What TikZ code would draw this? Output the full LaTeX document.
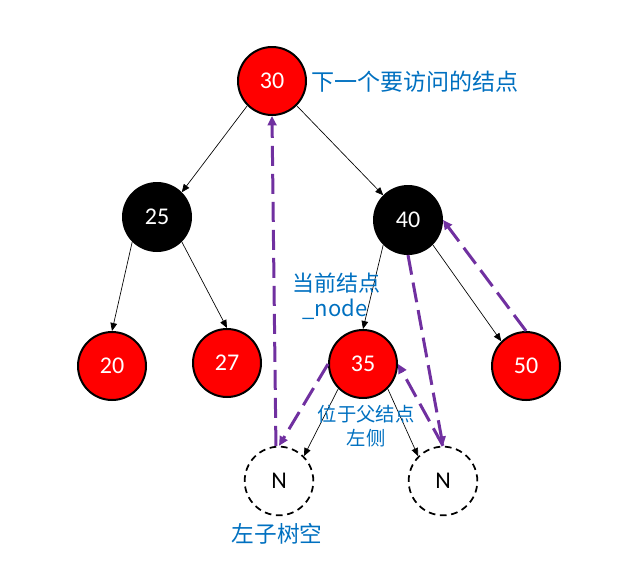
\documentclass[tikz,border=0pt]{standalone}
\usepackage{fontspec}
\setmainfont{Carlito}
\newfontfamily\cjk{Noto Sans CJK SC}
\usetikzlibrary{arrows.meta}
\definecolor{lblue}{RGB}{0,112,192}
\definecolor{vpurple}{RGB}{112,48,160}
\definecolor{nred}{RGB}{255,0,0}
\begin{document}
\begin{tikzpicture}[x=0.75pt,y=-0.75pt,
  treenode/.style={circle,minimum size=51pt,inner sep=0pt,line width=1.5pt,draw=black,text=white,font=\fontsize{18}{20}\selectfont},
  rednode/.style={treenode,fill=nred},
  blacknode/.style={treenode,fill=black},
  nilnode/.style={circle,minimum size=51.5pt,inner sep=0pt,draw=black,line width=1.3pt,dash pattern=on 5pt off 3.5pt,font=\fontsize{18}{20}\selectfont},
  edge/.style={-{Triangle[length=6pt,width=5pt]},line width=0.5pt},
  trace/.style={-{Triangle[length=7pt,width=6.5pt]},draw=vpurple,line width=2.25pt,dash pattern=on 15pt off 6pt},
  lbl/.style={text=lblue,font=\cjk\fontsize{16.5}{20}\selectfont,inner sep=0pt},
  lbltop/.style={lbl,font=\cjk\fontsize{17.3}{20}\selectfont},
  lblsmall/.style={lbl,font=\cjk\fontsize{14.5}{17}\selectfont},
  lblbig/.style={lbl,font=\cjk\fontsize{17}{20}\selectfont}]
\useasboundingbox (0,0) rectangle (634,579);
% tree nodes
\node[rednode]   (n30) at (272,81)  {30};
\node[blacknode] (n25) at (157,217) {25};
\node[blacknode] (n40) at (408,220) {40};
\node[rednode]   (n20) at (112,366) {20};
\node[rednode]   (n27) at (227,363) {27};
\node[rednode]   (n35) at (363,364) {35};
\node[rednode]   (n50) at (526,366) {50};
\node[nilnode]   (nl)  at (279,481) {N};
\node[nilnode]   (nr)  at (443,481) {N};
% tree edges
\draw[edge] (n30.south west) -- (n25.north east);
\draw[edge] (n30.south east) -- (n40.north west);
\draw[edge] (n25.south west) -- (n20.north);
\draw[edge] (n25.south east) -- (n27.north);
\draw[edge] (n40.south west) -- (n35.north);
\draw[edge] (n40.south east) -- (n50.north west);
\draw[edge] (n35.south west) -- (nl.north east);
\draw[edge] (n35.south east) -- (nr.north west);
% traversal path
\draw[trace] (nl.95) -- (n30.south);
\draw[trace] (n35.west) -- (nl.north);
\draw[trace] (nr.north) -- (n35.east);
\draw[trace] (n40.south) -- (nr.north);
\draw[trace] (n50.north) -- (n40.east);
% labels
\node[lbltop] (l1) at (415,82) {下一个要访问的结点};
\node[lbl] (l2) at (336,283) {当前结点};
\node[lbl] (l3) at (335,309) {\_node};
\node[lblsmall] (l4) at (366,414) {位于父结点};
\node[lblsmall] (l5) at (366,438) {左侧};
\node[lblbig] (l6) at (277,534) {左子树空};
\end{tikzpicture}
\end{document}
